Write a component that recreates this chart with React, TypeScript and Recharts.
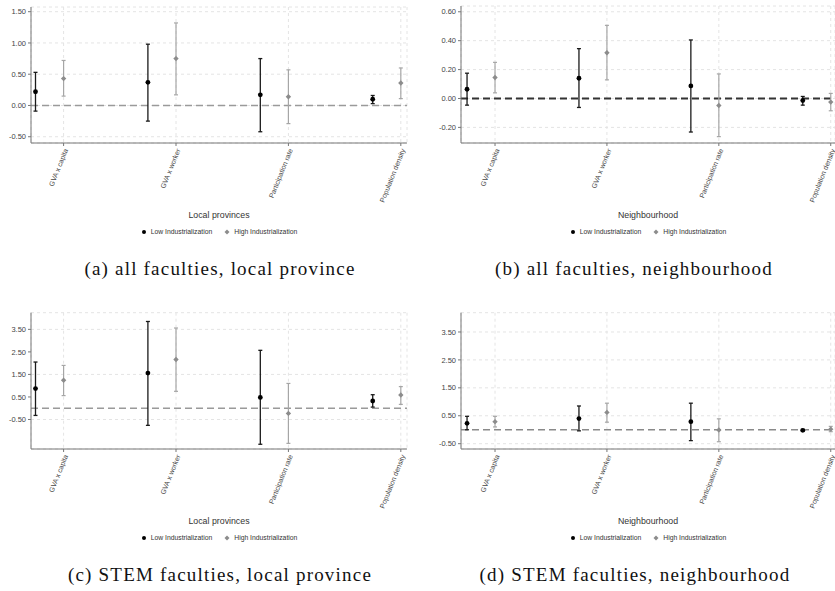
import { CartesianGrid, ComposedChart, ErrorBar, ReferenceLine, Scatter, XAxis, YAxis } from "recharts"

const categories = ["GVA x capita", "GVA x worker", "Participation rate", "Population density"]

// (a) all faculties, local province
const aLowEst = [0.22, 0.37, 0.17, 0.1]
const aLowLo = [-0.09, -0.25, -0.42, 0.03]
const aLowHi = [0.53, 0.98, 0.75, 0.16]
const aHighEst = [0.43, 0.75, 0.14, 0.36]
const aHighLo = [0.15, 0.17, -0.29, 0.11]
const aHighHi = [0.72, 1.32, 0.57, 0.6]

// (b) all faculties, neighbourhood
const bLowEst = [0.064, 0.14, 0.087, -0.014]
const bLowLo = [-0.046, -0.062, -0.232, -0.046]
const bLowHi = [0.175, 0.345, 0.405, 0.014]
const bHighEst = [0.145, 0.317, -0.048, -0.025]
const bHighLo = [0.039, 0.129, -0.264, -0.085]
const bHighHi = [0.25, 0.506, 0.17, 0.035]

// (c) STEM faculties, local province
const cLowEst = [0.87, 1.56, 0.48, 0.32]
const cLowLo = [-0.32, -0.76, -1.6, 0.05]
const cLowHi = [2.05, 3.85, 2.57, 0.6]
const cHighEst = [1.24, 2.16, -0.23, 0.59]
const cHighLo = [0.56, 0.75, -1.56, 0.17]
const cHighHi = [1.9, 3.56, 1.1, 0.96]

// (d) STEM faculties, neighbourhood
const dLowEst = [0.23, 0.4, 0.29, -0.02]
const dLowLo = [0.0, -0.04, -0.39, -0.05]
const dLowHi = [0.48, 0.85, 0.95, 0.01]
const dHighEst = [0.29, 0.62, -0.01, 0.02]
const dHighLo = [0.1, 0.27, -0.43, -0.07]
const dHighHi = [0.48, 0.95, 0.39, 0.12]

const ticksA = [-0.5, 0, 0.5, 1, 1.5]
const ticksB = [-0.2, 0, 0.2, 0.4, 0.6]
const ticksCD = [-0.5, 0.5, 1.5, 2.5, 3.5]

const LOW_SHIFT = -0.25
const sans = "'Liberation Sans', Arial, sans-serif"

function points(est: number[], lo: number[], hi: number[], shift: number) {
  return est.map((v, i) => ({ x: i + 1 + shift, y: v, err: [v - lo[i], hi[i] - v] }))
}

const Dot = (p: any) => <circle cx={p.cx} cy={p.cy} r={2.4} fill="#000" />
const Diamond = (p: any) => (
  <path d={`M${p.cx},${p.cy - 2.7}L${p.cx + 2.7},${p.cy}L${p.cx},${p.cy + 2.7}L${p.cx - 2.7},${p.cy}Z`} fill="#8c8c8c" />
)

interface PanelProps {
  left: number
  top: number
  width: number
  yWidth: number
  marginTop: number
  marginRight: number
  xDomain: [number, number]
  yDomain: [number, number]
  yTicks: number[]
  low: { x: number; y: number; err: number[] }[]
  high: { x: number; y: number; err: number[] }[]
  title: string
  caption: string
  captionX: number
  zeroColor: string
  zeroWidth: number
}

function Panel(p: PanelProps) {
  const plotLeft = p.yWidth
  const plotRight = p.width - p.marginRight
  const mid = (plotLeft + plotRight) / 2
  return (
    <div style={{ position: "absolute", left: p.left, top: p.top, width: p.width, height: 290 }}>
      <ComposedChart
        width={p.width}
        height={205}
        margin={{ top: p.marginTop, right: p.marginRight, left: 0, bottom: 0 }}
      >
        <CartesianGrid strokeDasharray="3 3" stroke="#e4e4e4" />
        <XAxis
          type="number"
          dataKey="x"
          domain={p.xDomain}
          ticks={[1, 2, 3, 4]}
          tickFormatter={(v) => categories[v - 1]}
          interval={0}
          angle={-68}
          textAnchor="end"
          height={62}
          allowDataOverflow
          stroke="#777"
          tickSize={3}
          tick={{ fontSize: 7, fill: "#444", fontFamily: sans }}
        />
        <YAxis
          type="number"
          dataKey="y"
          domain={p.yDomain}
          ticks={p.yTicks}
          tickFormatter={(v) => v.toFixed(2)}
          width={p.yWidth}
          allowDataOverflow
          stroke="#777"
          tickSize={3}
          tick={{ fontSize: 7.5, fill: "#444", fontFamily: sans }}
        />
        <ReferenceLine y={0} stroke={p.zeroColor} strokeWidth={p.zeroWidth} strokeDasharray="7 4" />
        <Scatter data={p.low} shape={Dot} isAnimationActive={false}>
          <ErrorBar dataKey="err" direction="y" width={2} stroke="#1a1a1a" strokeWidth={1.3} />
        </Scatter>
        <Scatter data={p.high} shape={Diamond} isAnimationActive={false}>
          <ErrorBar dataKey="err" direction="y" width={2} stroke="#a6a6a6" strokeWidth={1.2} />
        </Scatter>
      </ComposedChart>
      <div
        style={{
          position: "absolute", left: mid - 100, width: 200, top: 210, textAlign: "center",
          fontFamily: sans, fontSize: 8.8, color: "#333",
        }}
      >
        {p.title}
      </div>
      <div
        style={{
          position: "absolute", left: mid - 100, width: 200, top: 228, display: "flex",
          justifyContent: "center", alignItems: "center", gap: 4, fontFamily: sans, fontSize: 6.8, color: "#333",
        }}
      >
        <svg width={6} height={6}><circle cx={3} cy={3} r={2} fill="#000" /></svg>
        <span style={{ marginRight: 8 }}>Low Industrialization</span>
        <svg width={6} height={6}><path d="M3,0.5L5.5,3L3,5.5L0.5,3Z" fill="#8c8c8c" /></svg>
        <span>High Industrialization</span>
      </div>
      <div
        style={{
          position: "absolute", left: p.captionX - 200, width: 400, top: 258, textAlign: "center",
          fontFamily: "'Liberation Serif', 'Times New Roman', serif", fontSize: 19, letterSpacing: 1.2, color: "#111",
          whiteSpace: "nowrap",
        }}
      >
        {p.caption}
      </div>
    </div>
  )
}

export default function App() {
  return (
    <div style={{ position: "absolute", left: 0, top: 0, width: 835, height: 591, background: "#fff" }}>
      <Panel
        left={0} top={0} width={420} yWidth={31} marginTop={7} marginRight={13}
        xDomain={[0.71, 4.055]} yDomain={[-0.6, 1.575]} yTicks={ticksA}
        low={points(aLowEst, aLowLo, aLowHi, LOW_SHIFT)} high={points(aHighEst, aHighLo, aHighHi, 0)}
        title="Local provinces" caption="(a) all faculties, local province" captionX={220}
        zeroColor="#9a9a9a" zeroWidth={1.4}
      />
      <Panel
        left={420} top={0} width={415} yWidth={41} marginTop={6} marginRight={0}
        xDomain={[0.696, 4.038]} yDomain={[-0.308, 0.64]} yTicks={ticksB}
        low={points(bLowEst, bLowLo, bLowHi, LOW_SHIFT)} high={points(bHighEst, bHighLo, bHighHi, 0)}
        title="Neighbourhood" caption="(b) all faculties, neighbourhood" captionX={214}
        zeroColor="#333" zeroWidth={1.8}
      />
      <Panel
        left={0} top={306} width={420} yWidth={31} marginTop={6.7} marginRight={13}
        xDomain={[0.71, 4.055]} yDomain={[-1.81, 4.24]} yTicks={ticksCD}
        low={points(cLowEst, cLowLo, cLowHi, LOW_SHIFT)} high={points(cHighEst, cHighLo, cHighHi, 0)}
        title="Local provinces" caption="(c) STEM faculties, local province" captionX={220}
        zeroColor="#9a9a9a" zeroWidth={1.4}
      />
      <Panel
        left={420} top={306} width={415} yWidth={41} marginTop={6.7} marginRight={0}
        xDomain={[0.696, 4.038]} yDomain={[-0.69, 4.19]} yTicks={ticksCD}
        low={points(dLowEst, dLowLo, dLowHi, LOW_SHIFT)} high={points(dHighEst, dHighLo, dHighHi, 0)}
        title="Neighbourhood" caption="(d) STEM faculties, neighbourhood" captionX={215}
        zeroColor="#8a8a8a" zeroWidth={1.4}
      />
    </div>
  )
}
